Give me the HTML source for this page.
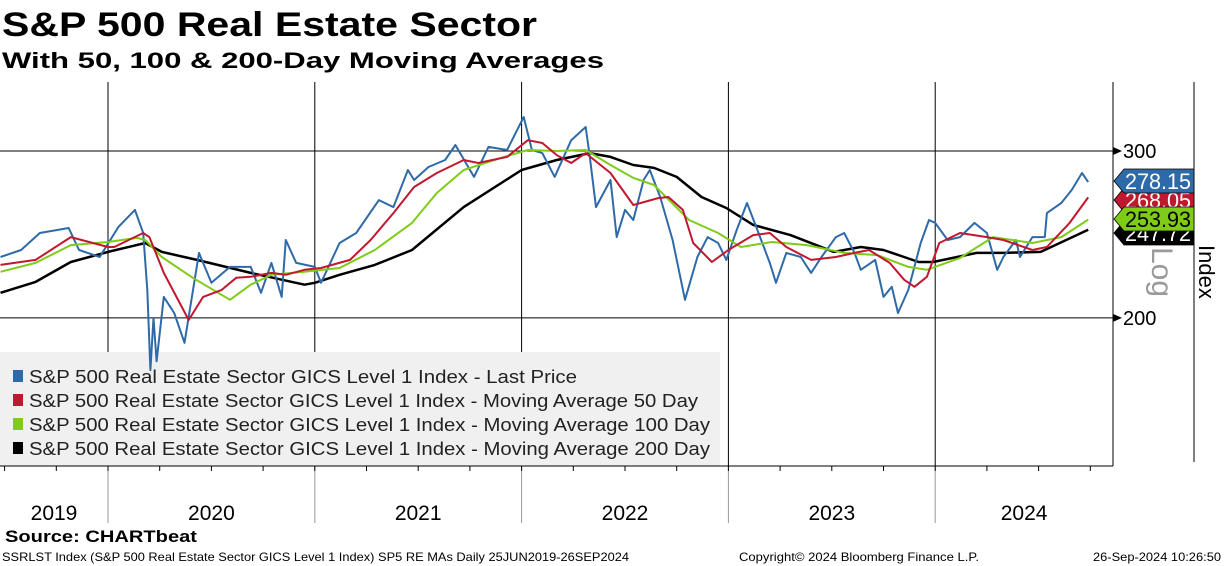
<!DOCTYPE html>
<html><head><meta charset="utf-8"><style>
html,body{margin:0;padding:0;background:#fff;}
svg{display:block;font-family:"Liberation Sans",sans-serif;}
</style></head><body>
<svg id="chart" width="1224" height="566" viewBox="0 0 1224 566" xmlns="http://www.w3.org/2000/svg">
<text x="2" y="36" font-size="34" font-weight="bold" textLength="535" lengthAdjust="spacingAndGlyphs">S&amp;P 500 Real Estate Sector</text>
<text x="2" y="68" font-size="22" font-weight="bold" textLength="602" lengthAdjust="spacingAndGlyphs">With 50, 100 &amp; 200-Day Moving Averages</text>
<g id="grid"></g>
<rect x="0" y="352" width="720" height="114" fill="#f0f0f0"/>
<g id="series"></g>
<g id="legend"></g>
<g id="axes"></g>
<g id="tags"></g>
<text transform="translate(1152,247) rotate(90)" font-size="30" fill="#9a9a9a">Log</text>
<text transform="translate(1199,245) rotate(90)" font-size="22" fill="#000">Index</text>
<text x="5" y="542" font-size="17" font-weight="bold" textLength="192" lengthAdjust="spacingAndGlyphs">Source: CHARTbeat</text>
<text x="2" y="561" font-size="12" textLength="627" lengthAdjust="spacingAndGlyphs">SSRLST Index (S&amp;P 500 Real Estate Sector GICS Level 1 Index) SP5 RE MAs  Daily 25JUN2019-26SEP2024</text>
<text x="739" y="561" font-size="12" textLength="240" lengthAdjust="spacingAndGlyphs">Copyright© 2024 Bloomberg Finance L.P.</text>
<text x="1093" y="561" font-size="12" textLength="128" lengthAdjust="spacingAndGlyphs">26-Sep-2024 10:26:50</text>
</svg>
<script>
const priceT=[2019.48,2019.58,2019.67,2019.81,2019.86,2019.96,2020.05,2020.13,2020.17,2020.19,2020.205,2020.22,2020.235,2020.27,2020.32,2020.37,2020.44,2020.50,2020.59,2020.69,2020.74,2020.79,2020.84,2020.86,2020.91,2021.00,2021.03,2021.12,2021.20,2021.31,2021.38,2021.45,2021.48,2021.55,2021.63,2021.68,2021.77,2021.84,2021.93,2022.01,2022.05,2022.10,2022.16,2022.24,2022.31,2022.33,2022.36,2022.43,2022.46,2022.50,2022.54,2022.59,2022.62,2022.67,2022.73,2022.79,2022.85,2022.90,2022.95,2022.99,2023.04,2023.09,2023.14,2023.20,2023.23,2023.28,2023.35,2023.40,2023.45,2023.52,2023.56,2023.61,2023.64,2023.71,2023.75,2023.79,2023.82,2023.87,2023.93,2023.97,2024.00,2024.06,2024.12,2024.19,2024.25,2024.30,2024.33,2024.39,2024.41,2024.47,2024.53,2024.54,2024.61,2024.66,2024.71,2024.74];
const priceV=[231.9,235.9,245.8,248.8,235.9,231.9,249.4,260.0,245.8,214.1,176.2,200.0,180.0,210.5,202.4,188.3,234.2,217.8,226.4,226.4,212.6,228.6,210.5,241.7,228.6,226.4,217.8,239.9,245.8,266.3,261.8,286.5,279.6,288.6,293.5,304.4,281.7,303.0,300.7,325.8,300.7,298.5,281.7,308.0,318.0,295.7,261.8,279.6,243.4,260.0,253.7,279.6,286.5,268.3,241.7,209.0,231.9,243.4,239.9,230.3,247.6,264.4,247.6,228.6,217.8,234.2,231.9,223.1,231.9,243.4,245.8,234.2,224.8,230.3,210.5,215.7,202.4,214.1,239.9,253.7,251.9,241.7,243.4,251.9,245.8,224.8,231.9,241.7,231.9,243.4,243.4,258.0,264.4,272.9,284.4,278.15];
const ma50T=[2019.48,2019.65,2019.82,2020.00,2020.03,2020.17,2020.20,2020.27,2020.39,2020.46,2020.55,2020.62,2020.69,2020.79,2020.86,2020.95,2021.03,2021.17,2021.27,2021.38,2021.48,2021.59,2021.72,2021.79,2021.93,2022.03,2022.10,2022.17,2022.24,2022.31,2022.43,2022.54,2022.66,2022.71,2022.78,2022.83,2022.92,2023.00,2023.12,2023.20,2023.28,2023.40,2023.52,2023.61,2023.68,2023.78,2023.85,2023.90,2023.96,2024.02,2024.12,2024.25,2024.33,2024.47,2024.54,2024.65,2024.74];
const ma50V=[227.5,230.3,243.4,237.6,237.6,245.8,243.4,223.1,199.0,210.5,214.1,220.5,221.0,223.1,222.1,224.8,225.8,230.3,241.7,258.0,274.9,284.4,293.5,291.4,295.7,308.0,305.9,297.0,291.4,298.5,284.4,263.1,267.6,268.3,260.0,239.9,229.1,235.9,244.6,245.8,237.6,230.3,231.9,234.2,235.9,228.6,219.4,215.7,221.0,239.9,245.8,243.4,241.7,235.9,237.6,251.9,268.05];
const ma100T=[2019.48,2019.65,2019.82,2020.00,2020.14,2020.18,2020.26,2020.41,2020.59,2020.69,2020.79,2020.95,2021.12,2021.29,2021.47,2021.59,2021.72,2021.90,2022.03,2022.17,2022.31,2022.43,2022.54,2022.64,2022.81,2022.95,2023.06,2023.21,2023.38,2023.56,2023.72,2023.87,2023.96,2024.12,2024.28,2024.47,2024.61,2024.74];
const ma100V=[223.7,228.6,238.7,240.5,242.9,241.7,231.9,220.5,209.0,216.8,222.1,223.7,225.8,235.9,251.9,270.9,286.5,295.0,300.7,300.0,300.7,290.0,281.0,276.2,253.7,245.8,237.6,240.5,238.7,234.2,233.0,226.4,224.8,231.4,243.4,239.9,243.4,253.93];
const ma200T=[2019.48,2019.65,2019.82,2020.00,2020.18,2020.26,2020.43,2020.69,2020.95,2021.00,2021.12,2021.29,2021.47,2021.72,2022.00,2022.17,2022.33,2022.43,2022.54,2022.64,2022.75,2022.87,2022.99,2023.12,2023.30,2023.51,2023.64,2023.75,2023.92,2023.99,2024.20,2024.33,2024.51,2024.74];
const ma200V=[212.6,218.3,229.1,234.8,239.9,234.8,230.3,223.1,216.8,217.8,222.1,227.5,235.9,261.8,286.5,293.5,298.5,295.7,290.0,287.9,281.7,268.3,261.2,250.7,244.6,234.8,237.6,235.9,229.1,229.1,234.2,234.2,234.8,247.72];
const yTicks=[200,300];
const years=[2019,2020,2021,2022,2023,2024];
const yearStarts=[2020,2021,2022,2023,2024];
const lastLabels=["278.15","268.05","253.93","247.72"];
const legendLabels=["S&P 500 Real Estate Sector GICS Level 1 Index - Last Price","S&P 500 Real Estate Sector GICS Level 1 Index - Moving Average 50 Day","S&P 500 Real Estate Sector GICS Level 1 Index - Moving Average 100 Day","S&P 500 Real Estate Sector GICS Level 1 Index - Moving Average 200 Day"];
const legendWidths=[548,669,681,681];

const NS="http://www.w3.org/2000/svg";
const PL=0,PR=1113,PT=82,PB=466;
const xOf=t=>108+(t-2020)*206.8;
const yOf=v=>151-948*Math.log10(v/300);
function mk(tag,parent,attrs){const e=document.createElementNS(NS,tag);for(const k in attrs)e.setAttribute(k,attrs[k]);parent.appendChild(e);return e;}
const grid=document.getElementById('grid'),series=document.getElementById('series'),axes=document.getElementById('axes'),legend=document.getElementById('legend'),tags=document.getElementById('tags');

yearStarts.forEach(y=>{const x=xOf(y);
 const l=mk('line',grid,{x1:x,x2:x,y1:PT,y2:PB,stroke:'#000','stroke-width':1});
 
 
 const s=mk('line',axes,{x1:x,x2:x,y1:PB,y2:523,stroke:'#999','stroke-width':1});
 
 
});
yTicks.forEach(v=>{const y=yOf(v);
 const l=mk('line',grid,{x1:PL,x2:PR,y1:y,y2:y,stroke:'#000','stroke-width':1});
 
 
 const a=mk('path',axes,{d:`M${PR} ${y-4}L${PR+9} ${y}L${PR} ${y+4}Z`,fill:'#000'});
 
 
 const t=mk('text',axes,{x:PR+10,y:y+7,'font-size':20});
 
 
 t.textContent=v;
});
const ra=mk('line',axes,{x1:PR,x2:PR,y1:PT,y2:PB,stroke:'#000'});


const rb=mk('line',axes,{x1:1194,x2:1194,y1:PT,y2:462,stroke:'#000'});


const xa=mk('line',axes,{x1:0,x2:PR,y1:PB,y2:PB,stroke:'#000'});


for(let q=2019.5;q<=2024.75;q+=0.25){const x=xOf(q);
 const tk=mk('line',axes,{x1:x,x2:x,y1:PB,y2:PB+5,stroke:'#000'});
 
 
}
years.forEach(y=>{const a=Math.max(0,xOf(y)),b=Math.min(PR,xOf(y+1));
 const t=mk('text',axes,{x:(a+b)/2,y:520,'font-size':21,'text-anchor':'middle'});
 
 
 t.textContent=y;
});

function drawLine(T,V,color,w,name){
 const d=T.map((t,i)=>(i?'L':'M')+xOf(t).toFixed(1)+' '+yOf(V[i]).toFixed(1)).join('');
 const p=mk('path',series,{d:d,fill:'none',stroke:color,'stroke-width':w,'stroke-linejoin':'round'});
 
 
}
drawLine(ma200T,ma200V,'#000',2.5,'ma200-line');
drawLine(priceT,priceV,'#2f6aa8',2,'price-line');
drawLine(ma100T,ma100V,'#7fcc18',2,'ma100-line');
drawLine(ma50T,ma50V,'#c0182f',2,'ma50-line');

const colors=['#2f6aa8','#c0182f','#7fcc18','#000'];
legendLabels.forEach((s,i)=>{const y=377+i*24;
 const r=mk('rect',legend,{x:13,y:y-7,width:10,height:12,fill:colors[i]});
 
 
 const t=mk('text',legend,{x:29,y:y+6,'font-size':18,fill:'#222',textLength:legendWidths[i],lengthAdjust:'spacingAndGlyphs'});
 
 
 t.textContent=s;
});

const tagY=[181,200,219,233];
const textCol=['#fff','#fff','#000','#fff'];
[3,1,2,0].forEach(i=>{const c=tagY[i];
 const g=mk('g',tags,{});
 
 
 mk('path',g,{d:`M1114 ${c}L1124 ${c-12}L1194 ${c-12}L1194 ${c+12}L1124 ${c+12}Z`,fill:colors[i],stroke:'#000','stroke-width':0.8});
 const t=mk('text',g,{x:1191,y:c+8,'font-size':22,'text-anchor':'end',fill:textCol[i],textLength:66,lengthAdjust:'spacingAndGlyphs'});
 t.textContent=lastLabels[i];
});
</script>
</body></html>
